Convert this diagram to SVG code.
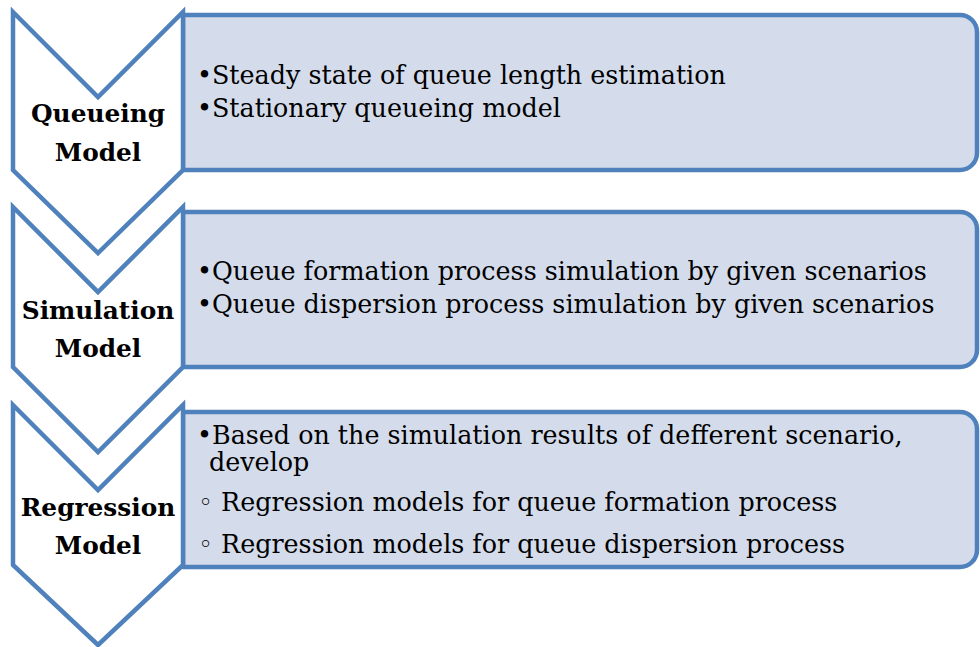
<svg xmlns="http://www.w3.org/2000/svg" width="980" height="647" viewBox="0 0 980 647">
<style>
.box{fill:#D4DCEB;stroke:#4F81BD;stroke-width:4.5;stroke-linejoin:round}
.chev{fill:#FFFFFF;stroke:#4F81BD;stroke-width:4.5;stroke-linejoin:miter}
.lbl{font-family:"DejaVu Serif","Liberation Serif",serif;font-weight:bold;font-size:24.8px;fill:#000;text-anchor:middle}
.txt{font-family:"DejaVu Serif","Liberation Serif",serif;font-size:25.4px;fill:#000}
</style>
<rect width="980" height="647" fill="#FFFFFF"/>
<g id="connectors"></g>
<g id="box1">
<path class="box" d="M183,15 H960 A17,17 0 0 1 977,32 V153 A17,17 0 0 1 960,170 H183 Z"/>
<text class="txt" x="197" y="84">•Steady state of queue length estimation</text>
<text class="txt" x="197" y="117">•Stationary queueing model</text>
</g>
<g id="box2">
<path class="box" d="M183,212 H960 A17,17 0 0 1 977,229 V350 A17,17 0 0 1 960,367 H183 Z"/>
<text class="txt" x="197" y="280">•Queue formation process simulation by given scenarios</text>
<text class="txt" x="197" y="313">•Queue dispersion process simulation by given scenarios</text>
</g>
<g id="box3">
<path class="box" d="M183,412 H960 A17,17 0 0 1 977,429 V550 A17,17 0 0 1 960,567 H183 Z"/>
<text class="txt" x="197" y="444">•Based on the simulation results of defferent scenario,</text>
<text class="txt" x="209" y="471">develop</text>
<text class="txt" x="198" y="511">◦ Regression models for queue formation process</text>
<text class="txt" x="198" y="553">◦ Regression models for queue dispersion process</text>
</g>
<g id="chevron1">
<path class="chev" d="M13,12 L98,97 L183,12 V170 L98,253 L13,170 Z"/>
<text class="lbl" x="98" y="122">Queueing</text>
<text class="lbl" x="98" y="161">Model</text>
</g>
<g id="chevron2">
<path class="chev" d="M13,207 L98,292 L183,207 V367 L98,452 L13,367 Z"/>
<text class="lbl" x="98" y="319">Simulation</text>
<text class="lbl" x="98" y="357">Model</text>
</g>
<g id="chevron3">
<path class="chev" d="M13,405 L98,490 L183,405 V565 L98,645 L13,565 Z"/>
<text class="lbl" x="98" y="516">Regression</text>
<text class="lbl" x="98" y="554">Model</text>
</g>
</svg>
